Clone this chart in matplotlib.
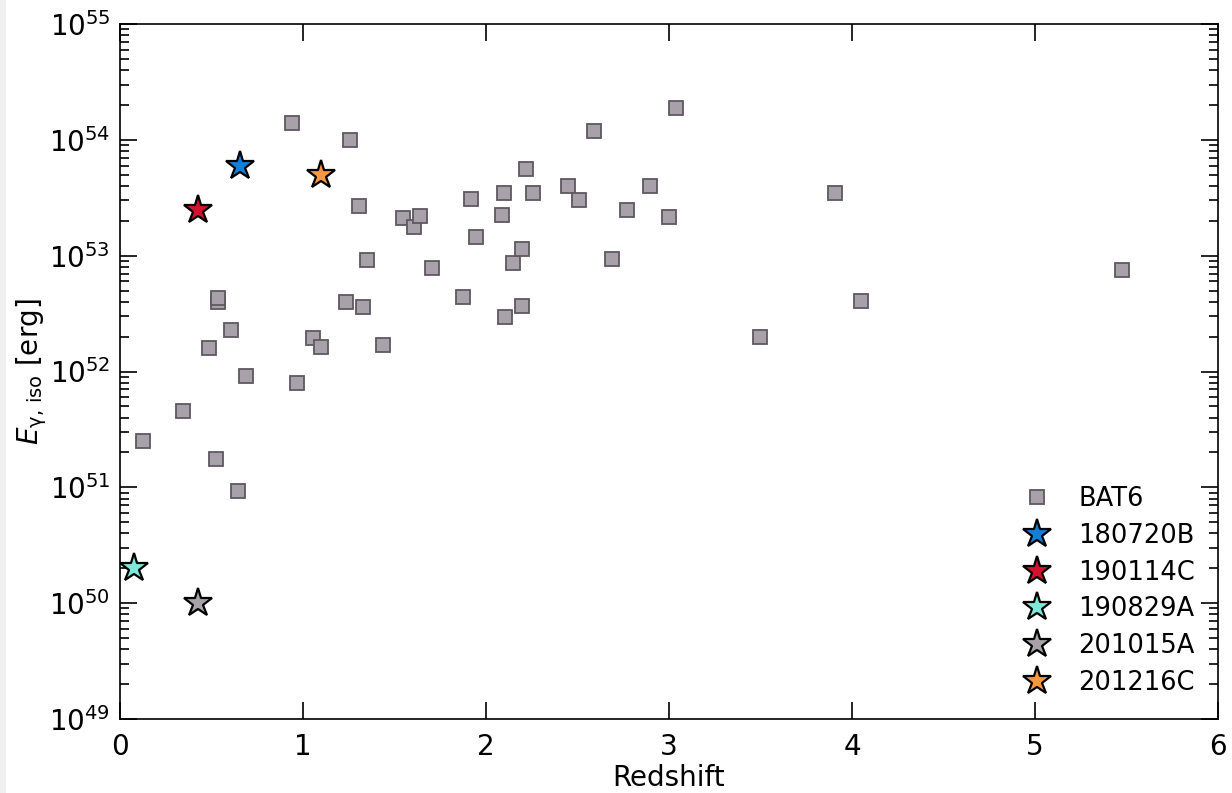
import matplotlib
matplotlib.use("Agg")
import matplotlib.pyplot as plt
from matplotlib.patches import Rectangle
from matplotlib.ticker import LogLocator, NullFormatter, LogFormatterMathtext

# BAT6 sample
bat6_z = [0.126, 0.344, 0.525, 0.645, 0.486, 0.536, 0.536, 0.607, 0.689, 0.940,
          0.967, 1.055, 1.098, 1.257, 1.306, 1.235, 1.328, 1.350, 1.437, 1.546,
          1.607, 1.639, 1.705, 1.874, 1.918, 1.945, 2.087, 2.098, 2.104, 2.148,
          2.197, 2.197, 2.219, 2.257, 2.448, 2.508, 2.590, 2.689, 2.770, 2.896,
          3.000, 3.038, 3.497, 3.907, 4.049, 5.475]
bat6_e = [2.5e51, 4.6e51, 1.75e51, 9.3e50, 1.6e52, 4.0e52, 4.3e52, 2.3e52, 9.1e51, 1.4e54,
          7.9e51, 1.95e52, 1.63e52, 1.0e54, 2.7e53, 4.0e52, 3.6e52, 9.2e52, 1.7e52, 2.1e53,
          1.77e53, 2.2e53, 7.9e52, 4.4e52, 3.1e53, 1.45e53, 2.24e53, 3.5e53, 2.95e52, 8.6e52,
          1.14e53, 3.7e52, 5.6e53, 3.5e53, 4.0e53, 3.0e53, 1.2e54, 9.3e52, 2.5e53, 4.0e53,
          2.15e53, 1.88e54, 2.0e52, 3.5e53, 4.1e52, 7.5e52]

# Individual GRBs
grb_names = ["180720B", "190114C", "190829A", "201015A", "201216C"]
grb_z = [0.654, 0.425, 0.0785, 0.426, 1.10]
grb_e = [6.0e53, 2.5e53, 2.0e50, 1.0e50, 5.0e53]
grb_colors = ["#1380d8", "#d2122e", "#7fe8d8", "#a8a2a8", "#f5983f"]

fig = plt.figure(figsize=(12.32, 7.93), dpi=100)
fig.patches.append(Rectangle((0, 0), 6 / 1232, 1, transform=fig.transFigure,
                             facecolor="#f0f0f0", edgecolor="none", zorder=-10))
ax = fig.add_axes([120 / 1232, 1 - 719 / 793, (1218 - 120) / 1232, (719 - 24) / 793])

ax.plot(bat6_z, bat6_e, linestyle="none", marker="s", markersize=10,
        markerfacecolor="#a8a1aa", markeredgecolor="#5e5860", markeredgewidth=1.3,
        label="BAT6", zorder=3)
for name, z, e, c in zip(grb_names, grb_z, grb_e, grb_colors):
    ax.plot([z], [e], linestyle="none", marker="*", markersize=21,
            markerfacecolor=c, markeredgecolor="black", markeredgewidth=1.6,
            label=name, zorder=4)

ax.set_yscale("log")
ax.set_xlim(0, 6)
ax.set_ylim(1e49, 1e55)
ax.yaxis.set_major_locator(LogLocator(base=10, numticks=20))
ax.yaxis.set_minor_locator(LogLocator(base=10, subs=range(2, 10), numticks=100))
ax.yaxis.set_minor_formatter(NullFormatter())
ax.yaxis.set_major_formatter(LogFormatterMathtext())

ax.tick_params(which="both", direction="in", top=True, right=True, labelsize=20)
ax.tick_params(which="major", length=12, width=1.2)
ax.tick_params(which="minor", length=6.5, width=1.2)
ax.tick_params(axis="x", pad=10)
ax.tick_params(axis="y", pad=7)
for s in ax.spines.values():
    s.set_linewidth(1.2)

ax.set_xlabel("Redshift", fontsize=20, labelpad=2)
ax.set_ylabel(r"$E_{\mathrm{\gamma,\,iso}}$ [erg]", fontsize=20, labelpad=0)

ax.legend(loc="lower right", frameon=False, fontsize=18.5, numpoints=1,
          handletextpad=0.8, labelspacing=0.42, borderaxespad=0.5,
          handlelength=1.6)

fig.savefig("out.png", dpi=100)
